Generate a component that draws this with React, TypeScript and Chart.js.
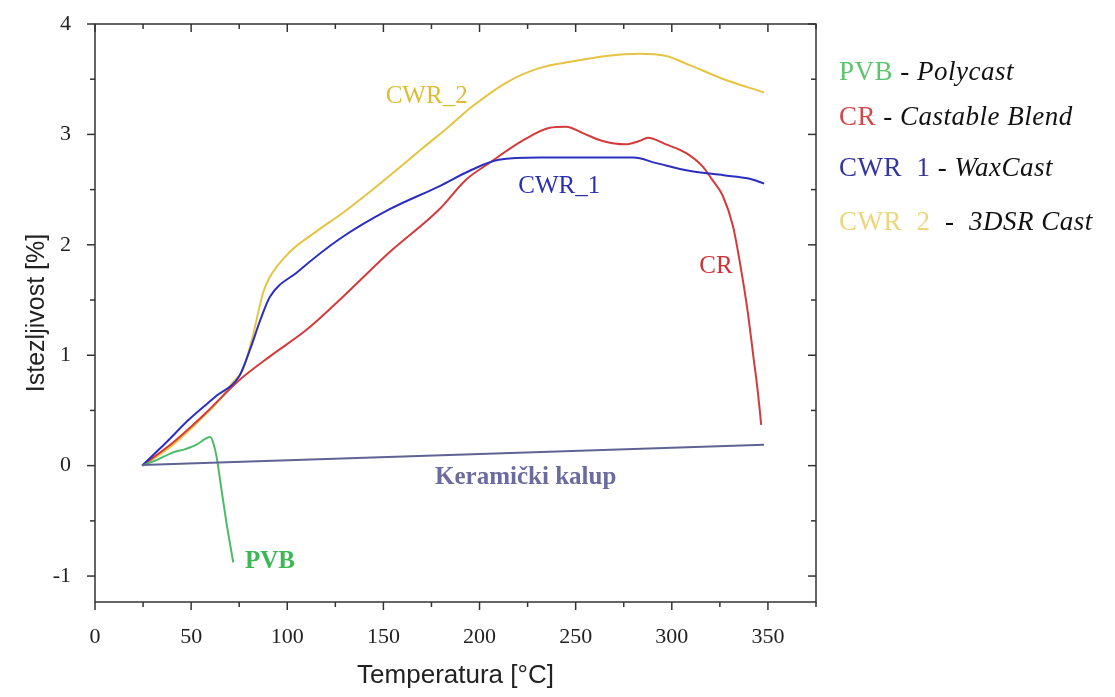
import React, { useEffect, useRef } from 'react';
import { Chart, registerables } from 'chart.js';
Chart.register(...registerables);

// ---- data (temperature °C, expansion %) ----
const cwr2T = [25, 40, 55, 65, 72, 77, 82, 87.5, 91, 101, 115, 129, 143, 157, 170, 184, 196, 214, 231, 248, 266, 283, 297, 309, 327, 348];
const cwr2V = [0, 0.18, 0.42, 0.6, 0.76, 0.87, 1.17, 1.57, 1.71, 1.93, 2.12, 2.29, 2.48, 2.68, 2.87, 3.07, 3.25, 3.47, 3.6, 3.66, 3.71, 3.73, 3.71, 3.63, 3.5, 3.38];

const cwr1T = [24.5, 37, 49, 63, 75, 80.6, 86, 91, 105, 127, 153, 179, 196, 210, 231, 257, 280, 292, 309, 327, 340, 348];
const cwr1V = [0, 0.21, 0.42, 0.63, 0.81, 1.05, 1.32, 1.53, 1.75, 2.05, 2.32, 2.53, 2.68, 2.77, 2.79, 2.79, 2.79, 2.74, 2.67, 2.63, 2.6, 2.555];

const crT = [24.5, 40.6, 56, 75.4, 91, 110, 129, 153, 179, 193, 205, 223, 236.5, 245, 254, 264, 276, 283, 287.6, 297, 307.5, 316, 321, 326.6, 331.8, 336, 339.6, 342.2, 344.8, 346.5];
const crV = [0, 0.21, 0.45, 0.78, 0.99, 1.23, 1.53, 1.93, 2.32, 2.59, 2.74, 2.95, 3.06, 3.07, 3.01, 2.94, 2.91, 2.94, 2.97, 2.91, 2.83, 2.71, 2.59, 2.44, 2.17, 1.78, 1.38, 1.02, 0.66, 0.37];

const pvbT = [24.5, 32, 40.6, 47, 52.8, 58, 60, 61.6, 63.2, 65.8, 68.4, 71.9];
const pvbV = [0, 0.05, 0.12, 0.15, 0.19, 0.25, 0.26, 0.2, 0.084, -0.22, -0.52, -0.876];

const ceramicT = [24.5, 348];
const ceramicV = [0.005, 0.19];

// ---- axis ticks ----
const xMajorTicks = [0, 50, 100, 150, 200, 250, 300, 350];
const xMinorTicks = [25, 75, 125, 175, 225, 275, 325, 375];
const yMajorTicks = [-1, 0, 1, 2, 3, 4];
const yMinorTicks = [-0.5, 0.5, 1.5, 2.5, 3.5];

// ---- in-plot labels ----
const labelTexts = ['CWR_2', 'CWR_1', 'CR', 'PVB', 'Keramički kalup'];
const labelT = [172.5, 241.5, 323, 91, 224];
const labelV = [3.34, 2.53, 1.8, -0.87, -0.11];
const labelColors = ['#DDBB33', '#2A2FB0', '#CC3333', '#3DB855', '#6B6B9E'];
const labelBold = [false, false, false, true, true];

const zip = (t: number[], v: number[]) => t.map((x, i) => ({ x, y: v[i] }));

const framePlugin = {
  id: 'framePlugin',
  afterDatasetsDraw(chart: any) {
    const { ctx, chartArea, scales } = chart;
    const { left, right, top, bottom } = chartArea;
    const x = scales.x;
    const y = scales.y;
    ctx.save();
    // in-plot labels
    labelTexts.forEach((t, i) => {
      ctx.font = `${labelBold[i] ? 'bold ' : ''}25px "Liberation Serif"`;
      ctx.fillStyle = labelColors[i];
      ctx.textAlign = 'center';
      ctx.textBaseline = 'middle';
      ctx.fillText(t, x.getPixelForValue(labelT[i]), y.getPixelForValue(labelV[i]));
    });
    // frame
    ctx.strokeStyle = '#333';
    ctx.lineWidth = 1.5;
    ctx.strokeRect(left, top, right - left, bottom - top);
    const line = (x1: number, y1: number, x2: number, y2: number) => {
      ctx.beginPath();
      ctx.moveTo(x1, y1);
      ctx.lineTo(x2, y2);
      ctx.stroke();
    };
    const maj = 8, min = 5;
    xMajorTicks.forEach((v) => {
      const p = x.getPixelForValue(v);
      line(p, bottom, p, bottom + maj);
      line(p, top, p, top + maj);
    });
    xMinorTicks.forEach((v) => {
      const p = x.getPixelForValue(v);
      line(p, bottom, p, bottom + min);
      line(p, top, p, top + min);
    });
    yMajorTicks.forEach((v) => {
      const p = y.getPixelForValue(v);
      line(left, p, left - maj, p);
      line(right, p, right - maj, p);
    });
    yMinorTicks.forEach((v) => {
      const p = y.getPixelForValue(v);
      line(left, p, left - min, p);
      line(right, p, right - min, p);
    });
    ctx.restore();
  },
};

export default function App() {
  const ref = useRef<HTMLCanvasElement>(null);
  useEffect(() => {
    document.body.style.margin = '0';
    const tickFont = { family: '"Liberation Serif"', size: 22 };
    const common = { borderWidth: 2, pointRadius: 0, fill: false, cubicInterpolationMode: 'monotone' as const };
    const chart = new Chart(ref.current!, {
      type: 'line',
      data: {
        datasets: [
          { label: 'Keramički kalup', data: zip(ceramicT, ceramicV), borderColor: '#5F6394', ...common },
          { label: 'PVB', data: zip(pvbT, pvbV), borderColor: '#4CBB68', ...common },
          { label: 'CWR_1', data: zip(cwr1T, cwr1V), borderColor: '#2B2FC0', ...common },
          { label: 'CR', data: zip(crT, crV), borderColor: '#D33B3B', ...common },
          { label: 'CWR_2', data: zip(cwr2T, cwr2V), borderColor: '#E5C443', ...common },
        ],
      },
      options: {
        responsive: false,
        animation: false,
        layout: { padding: { top: 24, right: 299, left: 0, bottom: 0 } },
        plugins: { legend: { display: false }, tooltip: { enabled: false } },
        scales: {
          x: {
            type: 'linear',
            min: 0,
            max: 375,
            afterBuildTicks: (s: any) => { s.ticks = xMajorTicks.map((v) => ({ value: v })); },
            afterFit: (s: any) => { s.height = 95; },
            grid: { display: false, drawTicks: true, tickLength: 18 },
            border: { display: false },
            ticks: { font: tickFont, color: '#222', padding: 4, maxRotation: 0, autoSkip: false },
            title: {
              display: true,
              text: 'Temperatura [°C]',
              font: { family: '"Liberation Sans"', size: 26 },
              color: '#222',
              padding: { top: 0, bottom: 6 },
            },
          },
          y: {
            type: 'linear',
            min: -1.235,
            max: 4,
            afterBuildTicks: (s: any) => { s.ticks = yMajorTicks.map((v) => ({ value: v })); },
            afterFit: (s: any) => { s.width = 95; },
            grid: { display: false, drawTicks: true, tickLength: 20 },
            border: { display: false },
            ticks: { font: tickFont, color: '#222', padding: 4, autoSkip: false },
            title: {
              display: true,
              text: 'Istezljivost [%]',
              font: { family: '"Liberation Sans"', size: 25 },
              color: '#222',
              padding: { top: 22, bottom: 0 },
            },
          },
        },
      },
      plugins: [framePlugin],
    });
    return () => chart.destroy();
  }, []);

  const legendRow = (abbr: string, color: string, name: string, top: number) => (
    <div
      style={{
        position: 'absolute',
        left: 839,
        top,
        fontFamily: '"Liberation Serif", serif',
        fontSize: 27,
        letterSpacing: 0.5,
        whiteSpace: 'pre',
        lineHeight: '30px',
        color: '#111',
      }}
    >
      <span style={{ color }}>{abbr}</span>
      <span> - </span>
      <span style={{ fontStyle: 'italic' }}>{name}</span>
    </div>
  );

  return (
    <div style={{ position: 'relative', width: 1115, height: 697, background: '#fff', overflow: 'hidden' }}>
      <canvas ref={ref} width={1115} height={697} style={{ position: 'absolute', left: 0, top: 0 }} />
      {legendRow('PVB', '#5DC46E', 'Polycast', 56)}
      {legendRow('CR', '#D04A4A', 'Castable Blend', 101)}
      {legendRow('CWR  1', '#3535A0', 'WaxCast', 152)}
      {legendRow('CWR  2 ', '#E9D77A', ' 3DSR Cast', 206)}
    </div>
  );
}
